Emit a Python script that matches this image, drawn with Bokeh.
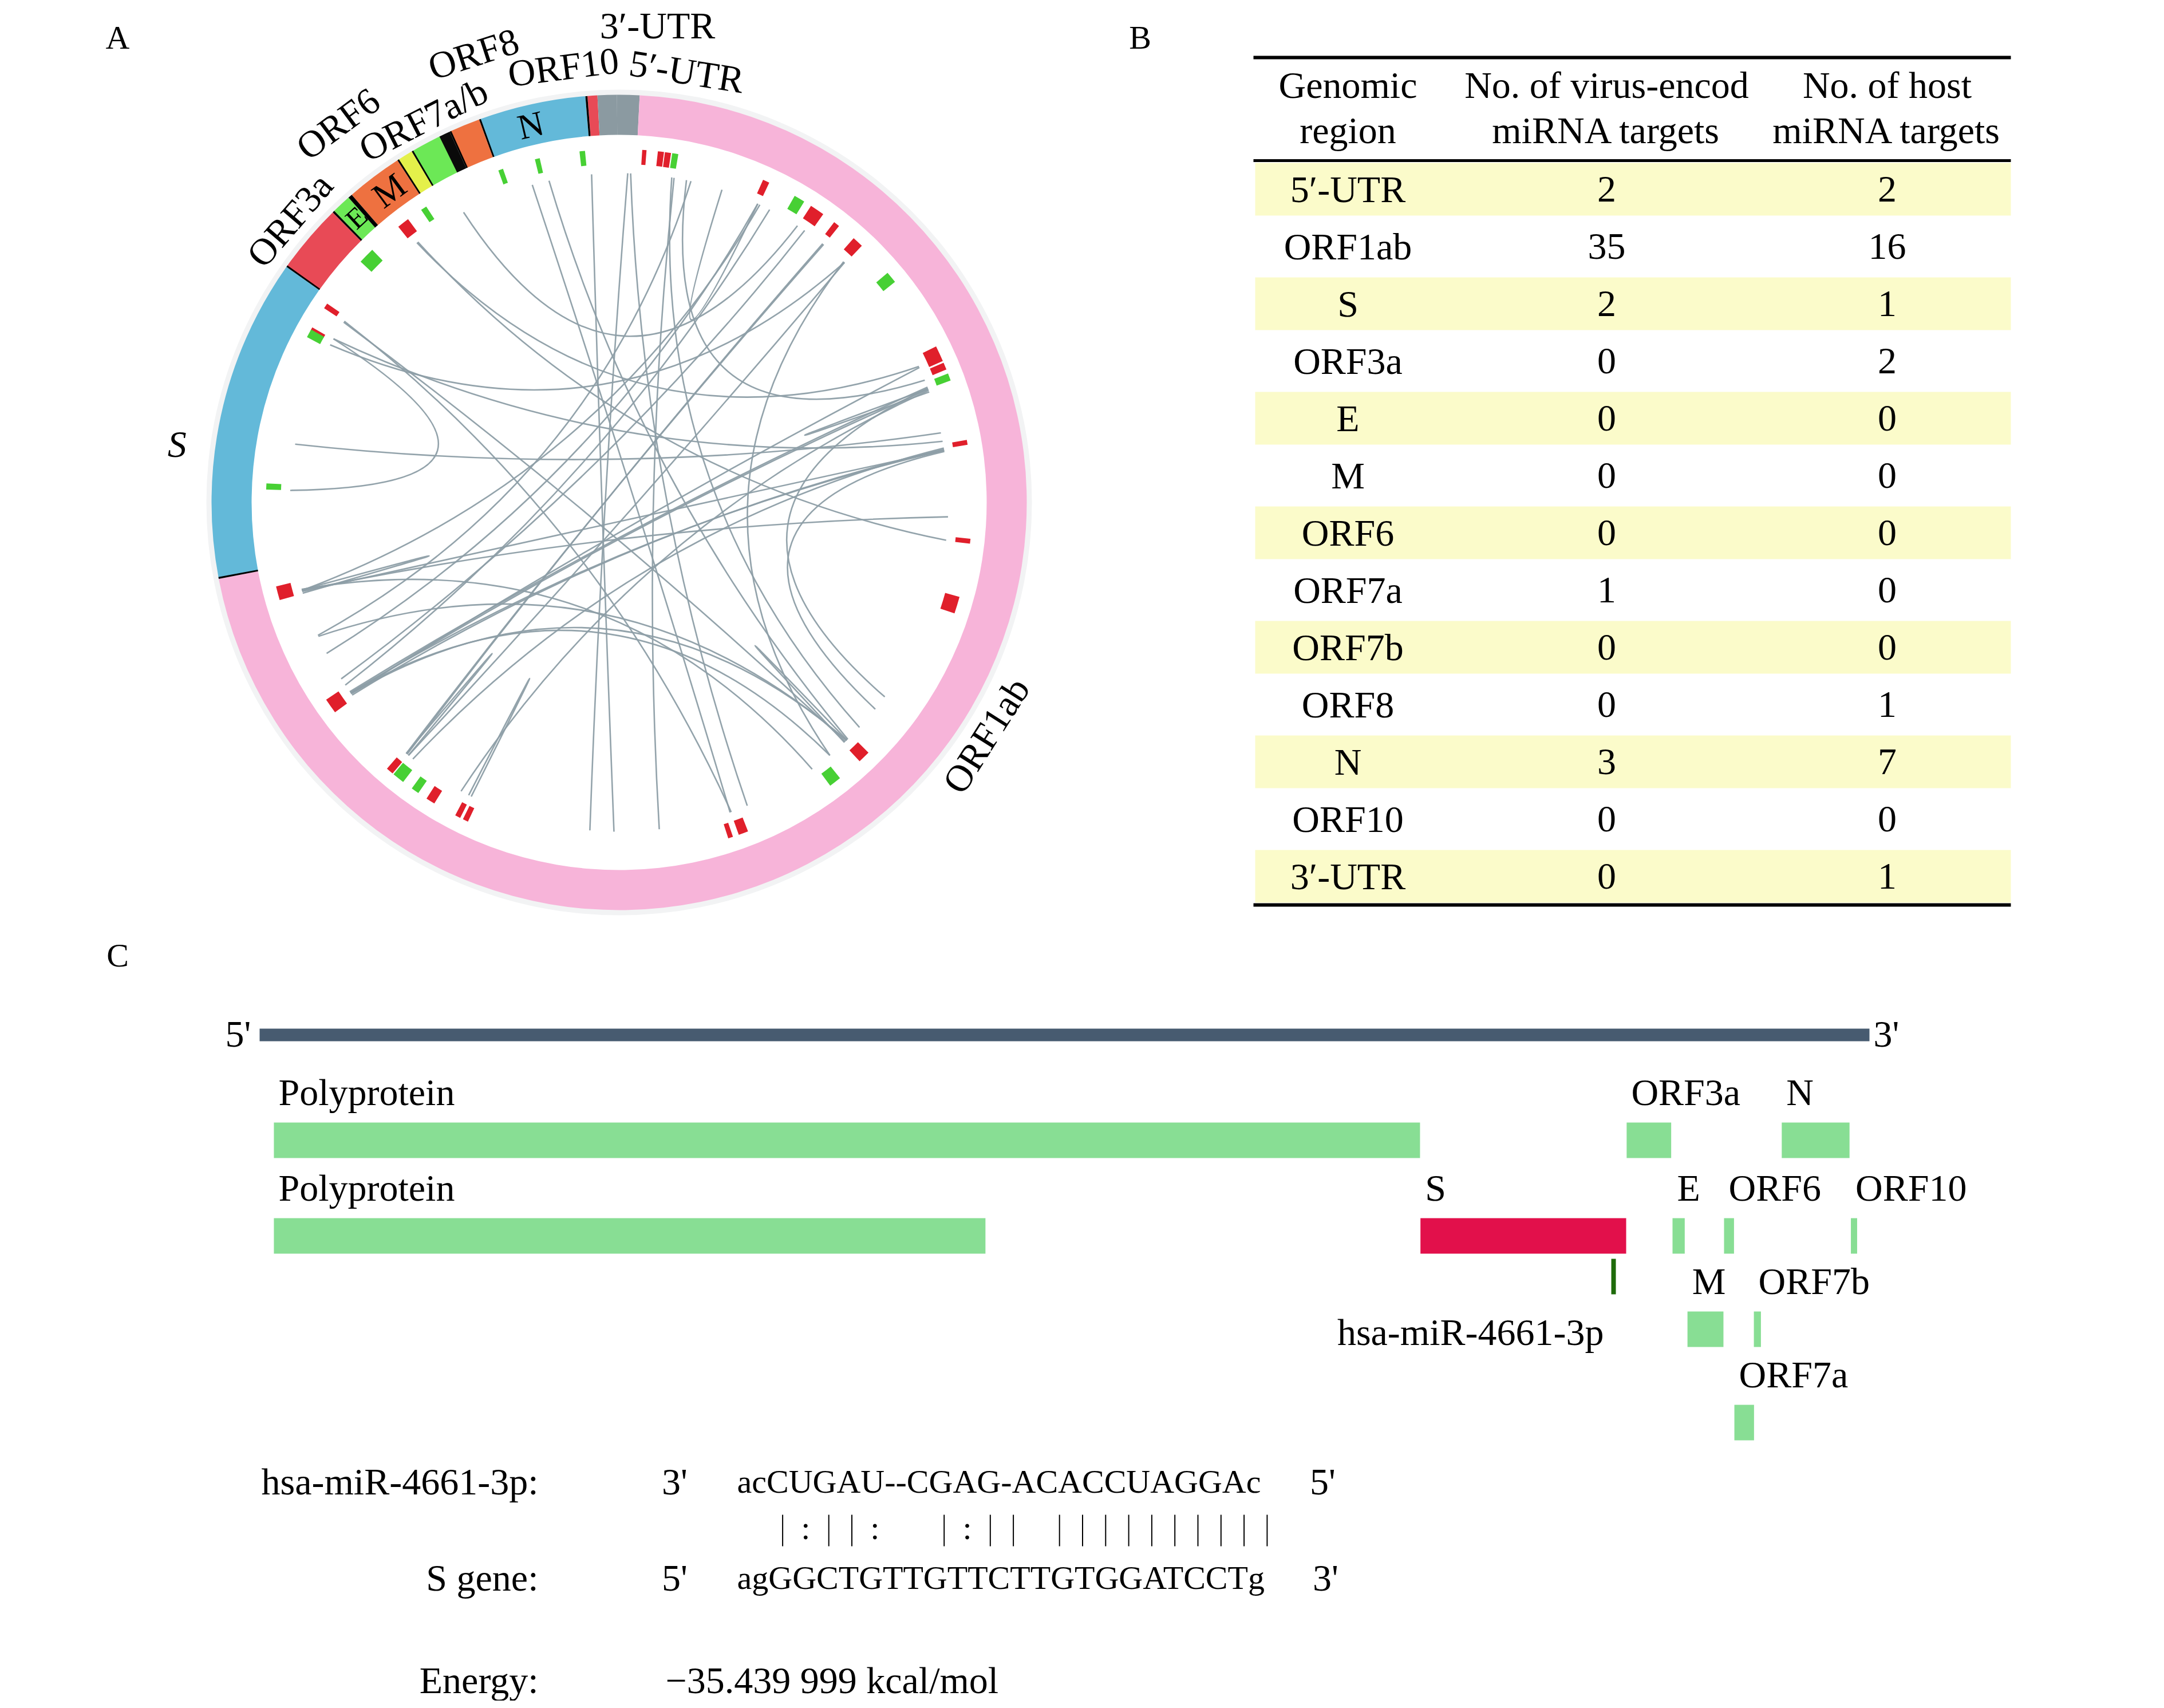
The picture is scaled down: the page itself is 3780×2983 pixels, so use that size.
import math
from bokeh.plotting import figure
from bokeh.layouts import column, row
from bokeh.models import Range1d
from bokeh.core.properties import value
from bokeh.embed import file_html
from bokeh.resources import INLINE

FONT = "Liberation Serif"

# ====================== DATA ======================
# --- Panel A: genome ring (SARS-CoV-2 coordinates) ---
GENOME_LENGTH = 29903
ring_regions = ["5′-UTR", "ORF1ab", "S", "ORF3a", "E", "M", "ORF6", "ORF7a", "ORF7b", "ORF8", "N", "ORF10", "3′-UTR"]
ring_start = [1, 266, 21563, 25393, 26245, 26523, 27202, 27394, 27756, 27894, 28274, 29558, 29675]
ring_end = [265, 21555, 25384, 26220, 26472, 27191, 27387, 27759, 27887, 28259, 29533, 29674, 29903]
ring_colors = ["#8b9aa1", "#f7b4d9", "#63b9d9", "#e84a56", "#6ce856", "#ee7140", "#e4f04a",
               "#6ce856", "#0a0a0a", "#ee7140", "#63b9d9", "#e84a56", "#8b9aa1"]

# target-site markers (angle in degrees clockwise from top, kind, angular width)
marker_angle = [4.1, 6.8, 7.95, 9.15, 24.6, 30.7, 34.1, 38.0, 42.5, 50.4, 65.1, 67.3, 69.2, 80.2,
                96.3, 106.9, 136.1, 142.3, 159.4, 161.6, 205.8, 207.2, 212.3, 215.3, 218.7, 220.5,
                234.8, 255.1, 272.6, 299.4, 298.6, 303.8, 314.3, 322.3, 326.4, 340.4, 346.6, 354.0]
marker_kind = ["r", "r", "r", "g", "r", "g", "r", "r", "r", "g", "r", "r", "g", "r",
               "r", "r", "r", "g", "r", "r", "r", "r", "r", "g", "g", "r",
               "r", "r", "g", "r", "g", "r", "g", "r", "g", "g", "g", "g"]
marker_width = [0.7, 1.0, 1.0, 1.0, 1.1, 1.8, 2.4, 1.0, 1.8, 1.9, 2.6, 1.2, 1.2, 0.8,
                0.8, 2.8, 2.0, 2.0, 1.6, 0.8, 0.9, 0.9, 1.5, 1.3, 2.0, 1.2,
                2.5, 2.3, 1.0, 0.6, 1.4, 0.9, 2.7, 2.0, 1.0, 0.8, 0.8, 0.9]
marker_colors = {"r": "#e01f2b", "g": "#47d034"}

# interaction links (angle of both ends, degrees)
link_a = [1.5, 2.0, 9.2, 9.6, 11.8, 12.6, 18.2, 24.9, 25.3, 27.2, 32.8, 34.3, 38.2, 43.2, 43.2, 43.0,
          65.6, 69.9, 69.7, 70.1, 77.8, 79.3, 80.9, 80.7, 80.9, 81.1, 80.5, 92.5, 96.6, 136.3,
          136.6, 144.1, 160.1, 160.3, 180.9, 272.1, 347.7, 220.3, 234.5, 234.9, 234.5, 234.7,
          69.8, 136.2, 206.7, 219.8, 254.0]
link_b = [185.1, 157.1, 133.1, 173.0, 68.2, 246.2, 24.9, 242.7, 254.5, 236.3, 331.8, 237.6, 220.1,
          219.8, 298.6, 140.2, 322.1, 234.5, 126.2, 208.7, 280.2, 299.8, 234.7, 234.2, 254.3, 128.9,
          218.8, 254.5, 322.3, 246.0, 303.2, 254.7, 303.4, 344.7, 355.2, 299.8, 136.0, 38.4, 65.8,
          69.5, 136.3, 140.2, 70.4, 136.8, 207.2, 220.3, 254.6]

ring_label_text = ["ORF3a", "ORF6", "ORF7a/b", "ORF8", "ORF10", "3′-UTR", "5′-UTR", "ORF1ab"]
ring_label_angle = [310.6, 323.4, 332.9, 342.0, 352.7, 4.6, 8.9, 122.4]
ring_label_radius = [758, 824, 751, 824, 767, 836, 762, 759]
ring_label_rot = [-310.6, -323.4, -332.9, -342.0, -352.7, 0.0, -8.9, 57.6]
inner_label_text = ["E", "M", "N"]
inner_label_angle = [317.3, 323.6, 346.8]
inner_label_size = ["50px", "62px", "62px"]

# --- Panel B: table ---
table_header = ["Genomic", "region", "No. of virus-encod", "miRNA targets", "No. of host", "miRNA targets"]
table_region = ["5′-UTR", "ORF1ab", "S", "ORF3a", "E", "M", "ORF6", "ORF7a", "ORF7b", "ORF8", "N", "ORF10", "3′-UTR"]
table_virus = [2, 35, 2, 0, 0, 0, 0, 1, 0, 0, 3, 0, 0]
table_host = [2, 16, 1, 2, 0, 0, 0, 0, 0, 1, 7, 0, 1]

# --- Panel C: genome map ---
map_names = ["Polyprotein", "ORF3a", "N", "Polyprotein", "S", "E", "ORF6", "ORF10", "M", "ORF7b", "ORF7a"]
map_start = [266, 25393, 28274, 266, 21563, 26245, 27202, 29558, 26523, 27756, 27394]
map_end = [21555, 26220, 29533, 13483, 25384, 26472, 27387, 29674, 27191, 27887, 27759]
map_row = [0, 0, 0, 1, 1, 1, 1, 1, 2, 2, 3]
map_kind = ["other"] * 4 + ["target"] + ["other"] * 6
mirna_name = "hsa-miR-4661-3p"
mirna_site = 25150
mirna_seq = "acCUGAU--CGAG-ACACCUAGGAc"
target_seq = "agGGCTGTTGTTCTTGTGGATCCTg"
pairing = "  |:||:  |:|| |||||||||| "
energy_text = "−35.439 999 kcal/mol"

# ====================== HELPERS ======================
def make_fig(w, h, xr, yr):
    p = figure(width=w, height=h, x_range=xr, y_range=yr, output_backend="svg",
               toolbar_location=None, min_border=0, x_axis_location=None, y_axis_location=None,
               outline_line_color=None, background_fill_color="white", border_fill_color="white")
    p.xgrid.visible = False
    p.ygrid.visible = False
    p.title.visible = False
    return p

def txt(p, x, y, t, size="66px", align="center", angle=0.0, style="normal", baseline="middle"):
    p.text(x=x, y=y, text=t, angle=angle, text_font=value(FONT), text_font_size=size,
           text_align=align, text_baseline=baseline, text_color="black", text_font_style=style)

# ====================== PANEL A ======================
WA, HA = 1950, 1630
CXA, CYA = 1081, 877
R_IN, R_OUT = 642, 712
R_MK0, R_MK1 = 591, 617
R_LINK = 575
ANGLE_OFFSET = -0.3

def deg_of(pos):
    return (pos - 1) / GENOME_LENGTH * 360.0 + ANGLE_OFFSET

def xy(r, deg):
    a = math.radians(deg)
    return r * math.sin(a), r * math.cos(a)

def wedge(d0, d1):
    return math.radians(90 - d1), math.radians(90 - d0)

pA = make_fig(WA, HA, Range1d(-CXA, WA - CXA), Range1d(CYA - HA, CYA))

pA.annulus(x=0, y=0, inner_radius=R_OUT - 1, outer_radius=R_OUT + 9, fill_color="#f2f3f4", line_color=None)

sa, ea = [], []
for s, e in zip(ring_start, ring_end):
    a0, a1 = wedge(deg_of(s), deg_of(e + 1))
    sa.append(a0); ea.append(a1)
pA.annular_wedge(x=0, y=0, inner_radius=R_IN, outer_radius=R_OUT, start_angle=sa, end_angle=ea,
                 fill_color=ring_colors, line_color=None)

# intergenic gaps in black
order = sorted(range(len(ring_start)), key=lambda i: ring_start[i])
gsa, gea = [], []
for i, j in zip(order[:-1], order[1:]):
    if ring_start[j] > ring_end[i] + 1:
        d0 = deg_of(ring_end[i] + 1)
        d1 = max(deg_of(ring_start[j]), d0 + 0.25)
        a0, a1 = wedge(d0, d1)
        gsa.append(a0); gea.append(a1)
pA.annular_wedge(x=0, y=0, inner_radius=R_IN, outer_radius=R_OUT, start_angle=gsa, end_angle=gea,
                 fill_color="#000000", line_color=None)

# markers
msa, mea, mcol = [], [], []
for ang, k, w in zip(marker_angle, marker_kind, marker_width):
    a0, a1 = wedge(ang - w / 2, ang + w / 2)
    msa.append(a0); mea.append(a1); mcol.append(marker_colors[k])
pA.annular_wedge(x=0, y=0, inner_radius=R_MK0, outer_radius=R_MK1, start_angle=msa, end_angle=mea,
                 fill_color=mcol, line_color=None)

# links
lx0, ly0, lx1, ly1, lcx, lcy = [], [], [], [], [], []
for a, b in zip(link_a, link_b):
    x0, y0 = xy(R_LINK, a)
    x1, y1 = xy(R_LINK, b)
    d = ((b - a + 180) % 360) - 180
    mid = a + d / 2
    cr = R_LINK * (0.05 + 0.15 * (1 - abs(d) / 180))
    cx_, cy_ = xy(cr, mid)
    lx0.append(x0); ly0.append(y0); lx1.append(x1); ly1.append(y1); lcx.append(cx_); lcy.append(cy_)
pA.quadratic(x0=lx0, y0=ly0, x1=lx1, y1=ly1, cx=lcx, cy=lcy, line_color="#8d9ea6", line_width=2.6, line_alpha=0.95)

# labels
for t, ang, r, rot in zip(ring_label_text, ring_label_angle, ring_label_radius, ring_label_rot):
    x, y = xy(r, ang)
    txt(pA, [x], [y], [t], angle=math.radians(rot))
sx, sy = xy(779, 277.5)
txt(pA, [sx], [sy], ["S"], style="italic")
for t, ang, sz in zip(inner_label_text, inner_label_angle, inner_label_size):
    x, y = xy((R_IN + R_OUT) / 2, ang)
    txt(pA, [x], [y], [t], size=sz, angle=math.radians(-ang))
txt(pA, [205 - CXA], [CYA - 65], ["A"], size="58px")

# ====================== PANEL B ======================
WB, HB = 3760 - WA, HA
ROW0_PX = 330
pB = make_fig(WB, HB, Range1d(0, WB), Range1d((HB - ROW0_PX) / 100.0, -ROW0_PX / 100.0))
col_x = [2354 - WA, 2806 - WA, 3296 - WA]
T_L, T_R = 2189 - WA, 3512 - WA
rows = list(range(len(table_region)))
shade_rows = [i for i in rows if i % 2 == 0]
pB.quad(left=2192 - WA, right=T_R, top=[i - 0.46 for i in shade_rows], bottom=[i + 0.46 for i in shade_rows],
        fill_color="#fbfbca", line_color=None)
pB.segment(x0=[T_L, T_L, T_L], y0=[-2.30, -0.5, 12.5], x1=[T_R, T_R, T_R], y1=[-2.30, -0.5, 12.5],
           line_color="black", line_width=[6, 5, 6])
for c in range(3):
    txt(pB, [col_x[c], col_x[c]], [-1.82, -1.03], [table_header[2 * c], table_header[2 * c + 1]])
txt(pB, [col_x[0]] * len(rows), rows, table_region)
txt(pB, [col_x[1]] * len(rows), rows, [str(v) for v in table_virus])
txt(pB, [col_x[2]] * len(rows), rows, [str(v) for v in table_host])
txt(pB, [1991 - WA], [(65 - ROW0_PX) / 100.0], ["B"], size="58px")

# ====================== PANEL C ======================
WC, HC = 3760, 1340
TOP_C = HA
PX_PER_NT = (3265 - 453) / (GENOME_LENGTH - 1)
NT0 = 1 - 453 / PX_PER_NT
pC = make_fig(WC, HC, Range1d(NT0, NT0 + WC / PX_PER_NT), Range1d(HC, 0))

def cx(ref_x):
    return NT0 + ref_x / PX_PER_NT

def cy(ref_y):
    return ref_y - TOP_C

# genome backbone
pC.quad(left=[1], right=[GENOME_LENGTH], top=[cy(1796)], bottom=[cy(1818)], fill_color="#475b70", line_color=None)
txt(pC, [cx(438)], [cy(1805)], ["5'"], align="right")
txt(pC, [cx(3272)], [cy(1805)], ["3'"], align="left")

row_top = [cy(1960), cy(2127), cy(2290), cy(2453)]
BAR_H = 62
kind_col = {"other": "#88de94", "target": "#e2104b"}
pC.quad(left=map_start, right=map_end, top=[row_top[r] for r in map_row],
        bottom=[row_top[r] + BAR_H for r in map_row], fill_color=[kind_col[k] for k in map_kind], line_color=None)
lab_off = 8 / PX_PER_NT
txt(pC, [s + lab_off for s in map_start], [row_top[r] - 53 for r in map_row], map_names, align="left")

# miRNA site
pC.segment(x0=[mirna_site], y0=[cy(2198)], x1=[mirna_site], y1=[cy(2260)], line_color="#1e6a0a", line_width=8)
txt(pC, [cx(2801)], [cy(2326)], [mirna_name], align="right")

# alignment
y1, y2, y3 = cy(2587), cy(2755), cy(2934)
txt(pC, [cx(940), cx(940), cx(940)], [y1, y2, y3], [mirna_name + ":", "S gene:", "Energy:"], align="right")
txt(pC, [cx(1178), cx(1178)], [y1, y2], ["3'", "5'"])
txt(pC, [cx(2310), cx(2315)], [y1, y2], ["5'", "3'"])
txt(pC, [cx(1287), cx(1287)], [y1, y2], [mirna_seq, target_seq], size="58px", align="left")
txt(pC, [cx(1162)], [y3], [energy_text], align="left")
slot_x0, slot_dx = 1286, 40.3
bx = [cx(slot_x0 + i * slot_dx) for i, ch in enumerate(pairing) if ch == "|"]
kx = [cx(slot_x0 + i * slot_dx) for i, ch in enumerate(pairing) if ch == ":"]
pC.segment(x0=bx, y0=[cy(2645)] * len(bx), x1=bx, y1=[cy(2700)] * len(bx), line_color="black", line_width=2)
txt(pC, kx, [cy(2668)] * len(kx), [":"] * len(kx), size="58px")

txt(pC, [cx(205)], [cy(1668)], ["C"], size="58px")

layout = column(row(pA, pB), pC)
open("out.html", "w").write(file_html(layout, INLINE))
